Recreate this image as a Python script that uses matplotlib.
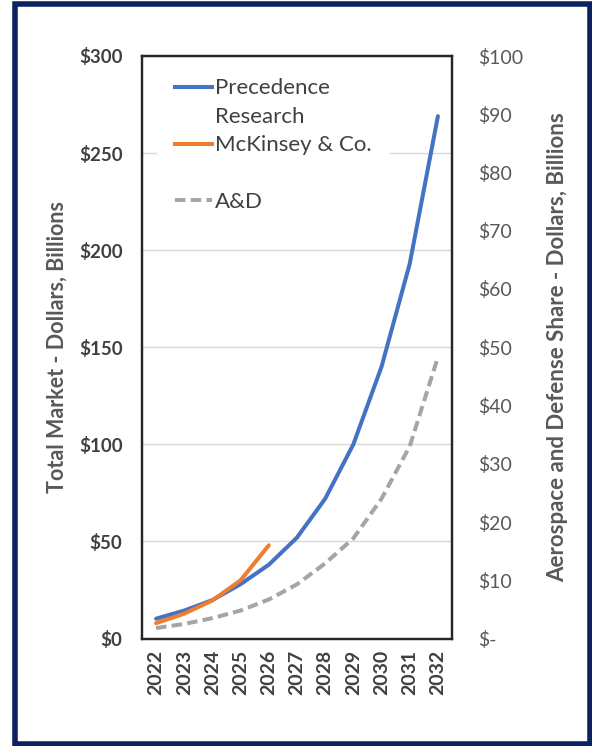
import matplotlib
matplotlib.use("Agg")
import matplotlib.pyplot as plt
from matplotlib.lines import Line2D
from matplotlib.patches import Rectangle

plt.rcParams['font.family'] = ['Lato', 'DejaVu Sans']

years = [2022, 2023, 2024, 2025, 2026, 2027, 2028, 2029, 2030, 2031, 2032]
precedence = [10.2, 14.4, 19.8, 28, 38, 52, 72, 100, 140, 193, 269]
mckinsey_years = [2022, 2023, 2024, 2025, 2026]
mckinsey = [7.9, 12.8, 19.6, 30, 48]
aandd = [1.8, 2.5, 3.5, 4.8, 6.7, 9.3, 12.9, 17.2, 24, 33, 48.3]

left_ticks = [0, 50, 100, 150, 200, 250, 300]
right_ticks = [0, 10, 20, 30, 40, 50, 60, 70, 80, 90, 100]

blue = '#4472C4'
orange = '#ED7D31'
grey = '#A5A5A5'
dash = (0, (2.6, 1.3))

fig = plt.figure(figsize=(5.92, 7.46), dpi=100)
fig.patches.append(Rectangle((14.5 / 592, 2 / 746), 575 / 592, 740 / 746,
                             transform=fig.transFigure, fill=False,
                             edgecolor='#0B2160', linewidth=4))

ax = fig.add_axes([142 / 592, 1 - 638.5 / 746, 310 / 592, 582.5 / 746])
ax2 = ax.twinx()

ax.plot(years, precedence, color=blue, lw=2.9, solid_capstyle='round', zorder=3)
ax.plot(mckinsey_years, mckinsey, color=orange, lw=2.9, solid_capstyle='round', zorder=3)
ax2.plot(years, aandd, color=grey, lw=2.9, ls=dash, zorder=3)

ax.set_ylim(0, 300)
ax2.set_ylim(0, 100)
ax.set_xlim(2021.5, 2032.5)

ax.set_yticks(left_ticks)
ax.set_yticklabels([f'${v}' for v in left_ticks], fontsize=13.5, fontweight='bold', color='#404040')
ax2.set_yticks(right_ticks)
ax2.set_yticklabels(['$-' if v == 0 else f'${v}' for v in right_ticks], fontsize=14, color='#595959')
ax.set_xticks(years)
ax.set_xticklabels([str(y) for y in years], rotation=90, fontsize=14, fontweight='bold', color='#404040')

ax.tick_params(axis='y', length=0, pad=14)
ax2.tick_params(axis='y', length=0, pad=19)
ax.tick_params(axis='x', length=0, pad=8)

ax.grid(axis='y', color='#D9D9D9', lw=1)
ax.set_axisbelow(True)
for sp in list(ax.spines.values()) + list(ax2.spines.values()):
    sp.set_color('#262626')
    sp.set_linewidth(1.6)

ax.set_ylabel('Total Market - Dollars, Billions', fontsize=15.5, fontweight='bold',
              color='#595959', labelpad=8)
ax2.set_ylabel('Aerospace and Defense Share - Dollars, Billions', fontsize=16,
               fontweight='bold', color='#595959', labelpad=17)

# Excel-style legend: handle sits on the first text line, blank row before A&D
handles = [Line2D([], [], color=blue, lw=2.9),
           Line2D([], [], color='none'),
           Line2D([], [], color=orange, lw=2.9),
           Line2D([], [], color='none'),
           Line2D([], [], color=grey, lw=2.9, ls=dash)]
labels = ['Precedence', 'Research', 'McKinsey & Co.', '', 'A&D']
leg = ax2.legend(handles, labels, loc='upper left', bbox_to_anchor=(0.048, 0.992),
                 frameon=True, fontsize=16, handlelength=1.7, handletextpad=0.12,
                 labelspacing=0.38, borderpad=0.8, borderaxespad=0)
leg.get_frame().set_edgecolor('none')
leg.get_frame().set_facecolor('white')
leg.get_frame().set_alpha(1)
for t in leg.get_texts():
    t.set_color('#404040')

fig.savefig('out.png', dpi=100)
